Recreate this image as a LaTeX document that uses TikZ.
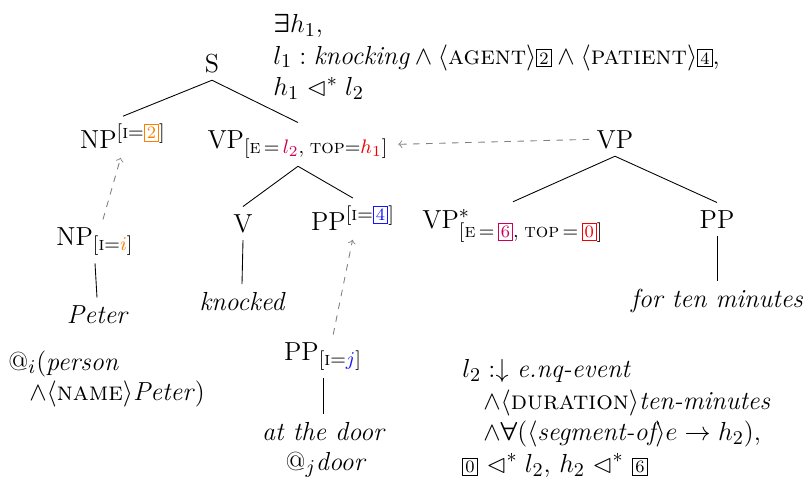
\documentclass[tikz,border=0pt]{standalone}
\usepackage{amsmath}
\usepackage{amssymb}
\usepackage{bm}
\usetikzlibrary{calc}

\DeclareMathSizes{12}{12}{9}{7}
\definecolor{idxorange}{RGB}{255,128,0}
\definecolor{idxblue}{RGB}{20,20,255}
\definecolor{evcrimson}{RGB}{205,0,85}
\definecolor{hdred}{RGB}{240,0,0}
\newcommand{\numbox}[2][black]{\textcolor{#1}{\setlength{\fboxsep}{1pt}\fbox{\footnotesize #2}}}
\newcommand{\dominates}{\mathrel{\lhd^*}}

\begin{document}
\begin{tikzpicture}[x=0.46pt,y=-0.46pt,
	font=\fontsize{12}{14.5}\selectfont,
	cat/.style={anchor=base},
	leaf/.style={anchor=base,font=\fontsize{12}{14.5}\selectfont\itshape},
	subst/.style={gray,dashed,->,shorten >=1pt},
	sem/.style={anchor=north west,align=left,inner sep=0pt}]
	\useasboundingbox (0,0) rectangle (807,487);
	% initial tree for the verb
	\node[cat] (S) at (212,72) {S};
	\node[cat] (NP2) at (123,148) {NP$^{[\textsc{i}=\numbox[idxorange]{2}]}$};
	\node[cat] (VP1) at (298,148) {VP$_{[\textsc{e}\,=\,\textcolor{evcrimson}{l_2},\;\textsc{top}=\textcolor{hdred}{h_1}]}$};
	\node[cat] (V) at (243,232) {V};
	\node[cat] (PP4) at (353,230) {PP$^{[\textsc{i}=\numbox[idxblue]{4}]}$};
	\node[leaf] (knocked) at (242,310) {knocked};
	% substituted arguments
	\node[cat] (NPi) at (95,245) {NP$_{[\textsc{i}=\textcolor{idxorange}{i}]}$};
	\node[leaf] (Peter) at (97,323) {Peter};
	\node[cat] (PPj) at (323,360) {PP$_{[\textsc{i}=\textcolor{idxblue}{j}]}$};
	\node[leaf] (door) at (323,440) {at the door};
	\node[cat] (doorsem) at (326,470) {$@_j$\textit{door}};
	\node[sem,font=\fontsize{12}{14}\selectfont] (petersem) at (8,350) {$@_i$(\textit{person}\\\hspace{0.8em}$\wedge\langle\textsc{name}\rangle$\textit{Peter})};
	% auxiliary tree for the modifier
	\node[cat] (VPa) at (615,148) {VP};
	\node[cat] (VPstar) at (513,228) {VP$^*_{[\textsc{e}\,=\,\numbox[evcrimson]{6},\;\textsc{top}\,=\,\numbox[hdred]{0}]}$};
	\node[cat] (PPb) at (717,228) {PP};
	\node[leaf] (minutes) at (717,307) {for ten minutes};
	% semantic representations
	\node[sem] (topsem) at (273,14) {$\bm{\exists} h_1$,\\
		$l_1 : \textit{knocking} \wedge \langle\textsc{agent}\rangle\numbox{2} \wedge \langle\textsc{patient}\rangle\numbox{4}$,\\
		$h_1 \dominates l_2$};
	\node[sem] (modsem) at (462,359) {$l_2 :\downarrow$ \textit{e.nq-event}\\
		\hspace{0.8em}$\wedge\langle\textsc{duration}\rangle$\textit{ten-minutes}\\
		\hspace{0.8em}$\wedge\bm{\forall}(\langle\textit{segment-of}\rangle e \rightarrow h_2)$,\\
		\numbox{0} $\dominates l_2$, $h_2 \dominates$ \numbox{6}};
	% tree edges
	\foreach \a/\b in {S/NP2,S/VP1,VP1/V,VP1/PP4,VPa/VPstar,VPa/PPb,NPi/Peter,V/knocked,PPj/door,PPb/minutes}
		\draw (\a.south) -- (\b.north);
	% substitution and adjunction
	\draw[subst] (NPi.70) -- (NP2.265);
	\draw[subst] (PPj.65) -- (PP4.south);
	\draw[subst] (VPa.west) -- (VP1.east);
\end{tikzpicture}
\end{document}
